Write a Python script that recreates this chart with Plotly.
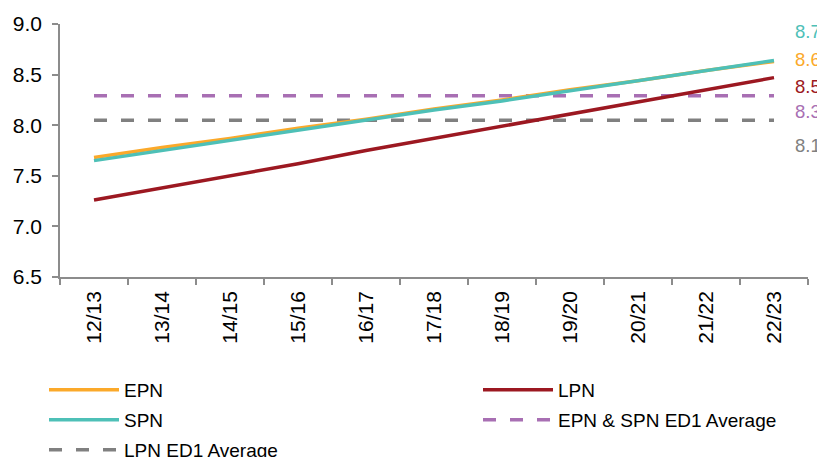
import plotly.graph_objects as go

years = ["12/13", "13/14", "14/15", "15/16", "16/17", "17/18",
         "18/19", "19/20", "20/21", "21/22", "22/23"]
epn = [7.68, 7.78, 7.87, 7.97, 8.06, 8.16, 8.25, 8.35, 8.44, 8.54, 8.63]
spn = [7.65, 7.75, 7.85, 7.95, 8.05, 8.15, 8.24, 8.34, 8.44, 8.54, 8.64]
lpn = [7.26, 7.38, 7.50, 7.62, 7.75, 7.87, 7.99, 8.11, 8.23, 8.35, 8.47]
epn_spn_avg = [8.29, 8.29, 8.29, 8.29, 8.29, 8.29, 8.29, 8.29, 8.29, 8.29, 8.29]
lpn_avg = [8.05, 8.05, 8.05, 8.05, 8.05, 8.05, 8.05, 8.05, 8.05, 8.05, 8.05]
end_labels = ["8.7", "8.6", "8.5", "8.3", "8.1"]

C_EPN = "#FBA92A"
C_SPN = "#4EC0B7"
C_LPN = "#9C1821"
C_PUR = "#A86FB3"
C_GRY = "#808080"
FONT = "Liberation Sans, Arial, sans-serif"

# page body has an 8px margin, so the figure is drawn 8px smaller and shifted
W, H = 817, 449

fig = go.Figure()
dash = "13px,14px"
fig.add_trace(go.Scatter(x=years, y=lpn_avg, name="LPN ED1 Average", mode="lines",
                         line=dict(color=C_GRY, width=3.5, dash=dash), legend="legend5", showlegend=True))
fig.add_trace(go.Scatter(x=years, y=epn_spn_avg, name="EPN & SPN ED1 Average", mode="lines",
                         line=dict(color=C_PUR, width=3.5, dash=dash), legend="legend4", showlegend=True))
fig.add_trace(go.Scatter(x=years, y=lpn, name="LPN", mode="lines",
                         line=dict(color=C_LPN, width=3.5), legend="legend2", showlegend=True))
fig.add_trace(go.Scatter(x=years, y=epn, name="EPN", mode="lines",
                         line=dict(color=C_EPN, width=3.5), legend="legend", showlegend=True))
fig.add_trace(go.Scatter(x=years, y=spn, name="SPN", mode="lines",
                         line=dict(color=C_SPN, width=3.5), legend="legend3", showlegend=True))

# end-of-line value labels
series_last = [spn[-1], epn[-1], lpn[-1], epn_spn_avg[-1], lpn_avg[-1]]
label_colors = [C_SPN, C_EPN, C_LPN, C_PUR, C_GRY]
label_shift = [29, 2, -9, -16, -25]
for txt, yv, col, sh in zip(end_labels, series_last, label_colors, label_shift):
    fig.add_annotation(x=0.98, xref="paper", y=yv, yref="y", text=txt, showarrow=False,
                       xanchor="left", yanchor="middle", yshift=sh,
                       font=dict(family=FONT, size=18.5, color=col))

leg_common = dict(orientation="h", xref="container", yref="container", xanchor="left",
                  yanchor="middle", font=dict(family=FONT, size=19, color="#000000"),
                  bgcolor="rgba(0,0,0,0)", itemwidth=70)

def lx(px):
    return (px - 8 - 5) / W

def ly(py):
    return 1 - (py - 8) / H

fig.update_layout(
    width=W, height=H,
    margin=dict(l=52, r=17, t=16, b=180),
    showlegend=True,
    paper_bgcolor="white", plot_bgcolor="white",
    font=dict(family=FONT, color="#000000"),
    legend=dict(x=lx(49), y=ly(390), **leg_common),
    legend2=dict(x=lx(483), y=ly(390), **leg_common),
    legend3=dict(x=lx(49), y=ly(420), **leg_common),
    legend4=dict(x=lx(483), y=ly(420), **leg_common),
    legend5=dict(x=lx(49), y=ly(450), **leg_common),
    xaxis=dict(type="category", showgrid=False, showline=True, linecolor="#8C8C8C", linewidth=1.5,
               ticks="outside", tickson="boundaries", ticklen=6, tickcolor="#8C8C8C", tickwidth=1.5,
               tickangle=-90, tickfont=dict(family=FONT, size=21, color="#000000"),
               ticklabelstandoff=4, range=[-0.5, 10.5], zeroline=False, automargin=False),
    yaxis=dict(range=[6.5, 9.0], dtick=0.5, tickformat=".1f", showgrid=False, showline=True,
               linecolor="#8C8C8C", linewidth=1.5, ticks="outside", ticklen=6, tickcolor="#8C8C8C",
               tickwidth=1.5, tickfont=dict(family=FONT, size=21, color="#000000"),
               ticklabelstandoff=6, zeroline=False, automargin=False),
)

fig.write_html("out.html")
